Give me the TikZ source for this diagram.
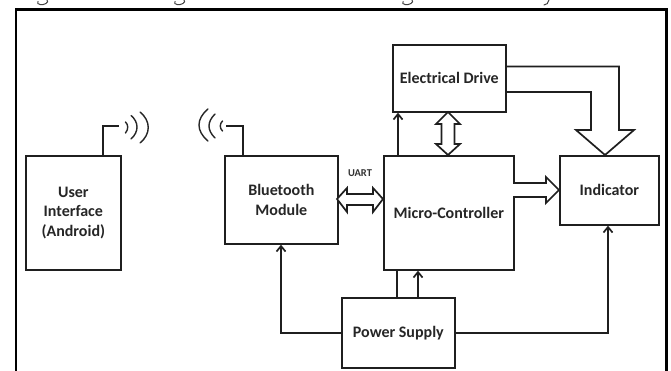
\documentclass[tikz,border=0pt]{standalone}
\usepackage{fontspec}
\setmainfont{Carlito}
\usetikzlibrary{arrows.meta}
\tikzset{
  x=1pt,y=-1pt,
  blockbox/.style={draw=black!88,line width=1.7pt,fill=white,inner sep=0pt,font=\bfseries\fontsize{16}{19.5}\selectfont,text=black!85,align=center,anchor=north west},
  conn/.style={draw=black!88,line width=1.7pt},
  tipped/.style={conn,-{Straight Barb[length=5.5pt,width=9pt,line width=1.7pt]}},
  hollow/.style={draw=black!88,line width=1.7pt,fill=white,line join=miter},
  wave/.style={draw=black!85,line width=1.4pt,line cap=round},
  scrap/.style={draw=black!75,line width=1pt,line cap=round}
}
\begin{document}
\begin{tikzpicture}
\useasboundingbox (0,0) rectangle (671,371);
\fill[white] (0,0) rectangle (671,371);
% outer frame, open at the bottom
\draw[black,line width=2.2pt] (16,371) -- (16,9.5) -- (666.5,9.5) -- (666.5,371);
% clipped remains of the caption line above the frame
\draw[scrap] (38,1.5) .. controls (36,5) and (43,5.5) .. (46,3.5) .. controls (48,2.5) and (48,1) .. (47,0);
\draw[scrap] (175,1.5) .. controls (173,5) and (180,5.5) .. (183,3.5) .. controls (185,2.5) and (185,1) .. (184,0);
\draw[scrap] (403,1.5) .. controls (401,5) and (408,5.5) .. (411,3.5) .. controls (413,2.5) and (413,1) .. (412,0);
\draw[scrap] (549,0) .. controls (548,3) and (547,5) .. (544,5);
% blocks
\node[blockbox,minimum width=95pt,minimum height=114pt] (ui) at (25,155) {User\\Interface\\(Android)};
\node[blockbox,minimum width=113pt,minimum height=88pt] (bt) at (224,155) {Bluetooth\\Module};
\node[blockbox,minimum width=113pt,minimum height=67pt] (ed) at (392,44) {Electrical Drive};
\node[blockbox,minimum width=130pt,minimum height=114pt] (mc) at (383,155) {Micro-Controller};
\node[blockbox,minimum width=99pt,minimum height=69pt] (ind) at (559,155) {Indicator};
\node[blockbox,minimum width=113pt,minimum height=70pt] (ps) at (341,297) {Power Supply};
\node[font=\bfseries\fontsize{10.5}{12}\selectfont,text=black!80,inner sep=0pt] (uart) at (360,173) {UART};
% antennas
\coordinate (ua) at (103,126);
\coordinate (ba) at (243,126);
\draw[conn] (ui.north west -| ua) -- (ua) -- ++(16,0);
\draw[conn] (bt.north west -| ba) -- (ba) -- ++(-17,0);
\draw[wave] (125.5,122) .. controls (128.5,125) and (128.5,129) .. (125.5,133);
\draw[wave] (131,115.5) .. controls (139,122) and (139,132) .. (131,139);
\draw[wave] (140,112) .. controls (151,121) and (151,134) .. (140,143);
\draw[wave] (222.5,121) .. controls (219.5,124) and (219.5,128) .. (222.5,131);
\draw[wave] (215,114) .. controls (207,122) and (207,130) .. (215,138);
\draw[wave] (208,109) .. controls (196,119) and (196,131) .. (208,141);
% thin connectors
\coordinate (a1) at (398,0);
\draw[tipped] (mc.north -| a1) -- (ed.south -| a1);
\coordinate (a2) at (397,0);
\draw[conn] (ps.north -| a2) -- (mc.south -| a2);
\coordinate (a3) at (418,0);
\draw[tipped] (ps.north -| a3) -- (mc.south -| a3);
\coordinate (a4) at (281,0);
\draw[tipped] (ps.west) -| (bt.south -| a4);
\coordinate (a5) at (608,0);
\draw[tipped] (ps.east) -| (ind.south -| a5);
% hollow arrows
\draw[hollow] (448,112) -- (460,124) -- (454.5,124) -- (454.5,144) -- (460,144) -- (448,155) -- (436,144) -- (441.5,144) -- (441.5,124) -- (436,124) -- cycle;
\draw[hollow] (337,199) -- (347,188) -- (347,194) -- (373,194) -- (373,188) -- (383,199) -- (373,212) -- (373,205) -- (347,205) -- (347,212) -- cycle;
\draw[hollow] (513,183) -- (546,183) -- (546,177) -- (559,190) -- (546,203) -- (546,197) -- (513,197);
\draw[hollow,fill=none] (505,66.5) -- (619,66.5) -- (619,130) -- (634,130) -- (605,155) -- (576,130) -- (591,130) -- (591,92) -- (505,92);
\end{tikzpicture}
\end{document}
